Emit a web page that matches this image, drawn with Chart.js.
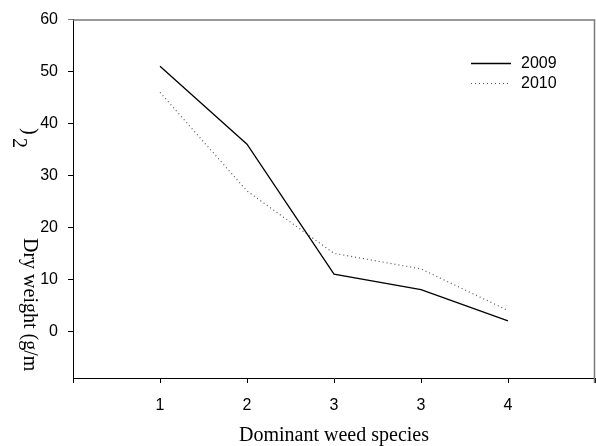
<!DOCTYPE html>
<html>
<head>
<meta charset="utf-8">
<script src="https://cdn.jsdelivr.net/npm/chart.js@4.4.1/dist/chart.umd.min.js"></script>
<style>
    html, body { margin: 0; padding: 0; background: #fff; }
    #wrap { width: 596px; height: 446px; }
</style>
</head>
<body>
<div id="wrap"><canvas id="chart" width="596" height="446"></canvas></div>
<script>
// Dry weight of dominant weed species, 2009 vs 2010

const xPositions = [1, 2, 3, 4, 5];
const xTickLabels = ['1', '2', '3', '3', '4'];
const series2009 = [51, 36, 11, 8, 2];
const series2010 = [46, 27, 15, 12, 4];
const yTicks = [0, 10, 20, 30, 40, 50, 60];
const seriesNames = ['2009', '2010'];

const tickFont = { family: 'Arial, "Liberation Sans", sans-serif', size: 16 };
const serifFont = '20px "Liberation Serif", "Times New Roman", serif';
const frameGrey = '#7a7a7a';

function toPoints(values) {
    return xPositions.map((x, i) => ({ x: x, y: values[i] }));
}

// Draws the grey frame, the legend and the axis titles
const decorPlugin = {
    id: 'decor',
    afterDraw(chart) {
        const ctx = chart.ctx;
        const a = chart.chartArea;
        ctx.save();

        // grey top and right frame
        ctx.strokeStyle = frameGrey;
        ctx.lineWidth = 1.5;
        ctx.beginPath();
        ctx.moveTo(a.left, a.top + 0.5);
        ctx.lineTo(a.right - 0.5, a.top + 0.5);
        ctx.lineTo(a.right - 0.5, a.bottom + 5);
        ctx.stroke();

        // legend
        ctx.font = `${tickFont.size}px ${tickFont.family}`;
        ctx.textBaseline = 'middle';
        ctx.textAlign = 'left';
        chart.data.datasets.forEach((ds, i) => {
            const y = 63.5 + i * 20;
            ctx.strokeStyle = ds.borderColor;
            ctx.lineWidth = ds.borderWidth;
            ctx.setLineDash(ds.borderDash || []);
            ctx.beginPath();
            ctx.moveTo(471, y);
            ctx.lineTo(511, y);
            ctx.stroke();
            ctx.setLineDash([]);
            ctx.fillStyle = '#000';
            ctx.fillText(ds.label, 521, y);
        });

        // x axis title
        ctx.font = serifFont;
        ctx.fillStyle = '#000';
        ctx.textAlign = 'center';
        ctx.textBaseline = 'alphabetic';
        ctx.fillText('Dominant weed species', (a.left + a.right) / 2, 441);

        // y axis title, rotated to read downwards (split as in the original)
        ctx.textAlign = 'left';
        const rotated = (text, x, y) => {
            ctx.save();
            ctx.translate(x, y);
            ctx.rotate(Math.PI / 2);
            ctx.fillText(text, 0, 0);
            ctx.restore();
        };
        rotated(')', 24, 128);
        rotated('2', 13, 138);
        rotated('Dry weight (g/m', 24, 238);

        ctx.restore();
    }
};

new Chart(document.getElementById('chart'), {
    type: 'line',
    data: {
        datasets: [
            {
                label: seriesNames[0],
                data: toPoints(series2009),
                borderColor: '#000',
                borderWidth: 1.3,
                pointRadius: 0,
                tension: 0,
                fill: false
            },
            {
                label: seriesNames[1],
                data: toPoints(series2010),
                borderColor: '#555',
                borderWidth: 1.2,
                borderDash: [1, 3],
                pointRadius: 0,
                tension: 0,
                fill: false
            }
        ]
    },
    options: {
        responsive: false,
        animation: false,
        layout: { padding: { top: 17, right: 1, left: 0, bottom: 0 } },
        plugins: {
            legend: { display: false },
            tooltip: { enabled: false }
        },
        scales: {
            x: {
                type: 'linear',
                min: 0,
                max: xPositions.length + 1,
                afterBuildTicks: s => {
                    s.ticks = [0, ...xPositions, xPositions.length + 1].map(v => ({ value: v }));
                },
                afterFit: s => {
                    s.height = 68;
                    // tick padding would otherwise shrink the plot on the right
                    s.paddingLeft = 0;
                    s.paddingRight = 0;
                },
                border: { display: true, color: '#000', width: 1 },
                grid: { drawOnChartArea: false, drawTicks: true, tickLength: 5, color: '#000' },
                ticks: {
                    padding: 13,
                    color: '#000',
                    font: tickFont,
                    autoSkip: false,
                    maxRotation: 0,
                    callback: value => {
                        const i = xPositions.indexOf(value);
                        return i >= 0 ? xTickLabels[i] : '';
                    }
                }
            },
            y: {
                type: 'linear',
                min: -9,
                max: 60,
                afterBuildTicks: s => {
                    s.ticks = yTicks.map(v => ({ value: v }));
                },
                afterFit: s => { s.width = 73; },
                border: { display: true, color: '#000', width: 1 },
                grid: {
                    drawOnChartArea: false,
                    drawTicks: true,
                    tickLength: 5,
                    color: c => (c.tick && c.tick.value === 60 ? frameGrey : '#000')
                },
                ticks: { padding: 10, color: '#000', font: tickFont }
            }
        }
    },
    plugins: [decorPlugin]
});
</script>
</body>
</html>
